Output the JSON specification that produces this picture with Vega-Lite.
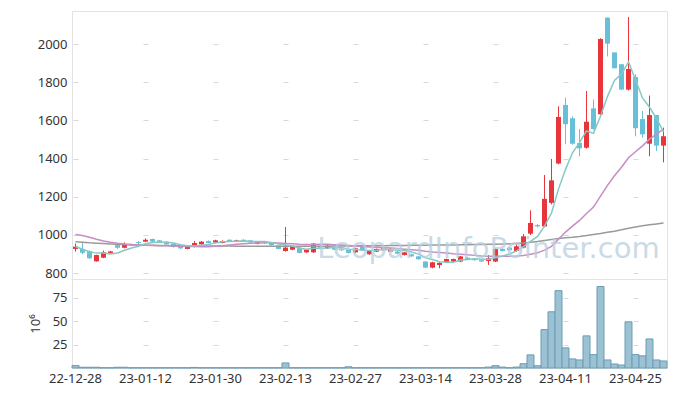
{
  "$schema": "https://vega.github.io/schema/vega-lite/v6.json",
  "padding": {"left": 28, "top": 10, "right": 9, "bottom": 5},
  "background": "white",
  "spacing": 0,
  "bounds": "flush",
  "config": {
    "view": {"stroke": "#e3e3e3"},
    "axis": {"labelFont": "Noto Sans", "labelFontSize": 13, "labelColor": "#333333", "domain": false, "ticks": false, "gridColor": "#d9d9d9", "gridWidth": 1, "titleFont": "Noto Sans", "titleFontWeight": "normal", "titleFontSize": 13, "titleColor": "#333333"}
  },
  "data": {"values": [
    {"d":"22-12-28","o":927,"h":955,"l":913,"c":939,"v":2.6,"m5":940,"m20":1003,"m60":965},
    {"d":"22-12-29","o":927,"h":965,"l":899,"c":907,"v":0.8,"m5":925,"m20":997,"m60":962},
    {"d":"23-01-02","o":916,"h":918,"l":874,"c":878,"v":0.8,"m5":912,"m20":988,"m60":959},
    {"d":"23-01-03","o":862,"h":897,"l":860,"c":895,"v":0.8,"m5":905,"m20":978,"m60":957},
    {"d":"23-01-04","o":881,"h":918,"l":879,"c":909,"v":0.3,"m5":905.6,"m20":969,"m60":955},
    {"d":"23-01-05","o":906,"h":917,"l":903,"c":914,"v":0.3,"m5":900.6,"m20":962,"m60":953},
    {"d":"23-01-06","o":947,"h":958,"l":927,"c":933,"v":0.8,"m5":905.8,"m20":957,"m60":951},
    {"d":"23-01-09","o":933,"h":961,"l":930,"c":951,"v":0.8,"m5":920.4,"m20":953,"m60":950},
    {"d":"23-01-10","o":947,"h":954,"l":944,"c":951,"v":0.3,"m5":931.6,"m20":950,"m60":948},
    {"d":"23-01-11","o":963,"h":968,"l":951,"c":958,"v":0.3,"m5":941.4,"m20":948,"m60":947},
    {"d":"23-01-12","o":965,"h":982,"l":963,"c":975,"v":0.3,"m5":953.6,"m20":946,"m60":946},
    {"d":"23-01-13","o":979,"h":981,"l":963,"c":965,"v":0.3,"m5":960,"m20":945,"m60":946},
    {"d":"23-01-16","o":972,"h":974,"l":958,"c":961,"v":0.3,"m5":962,"m20":944,"m60":945},
    {"d":"23-01-17","o":965,"h":968,"l":949,"c":951,"v":0.3,"m5":962,"m20":943,"m60":945},
    {"d":"23-01-18","o":954,"h":956,"l":934,"c":937,"v":0.3,"m5":957.8,"m20":942,"m60":944},
    {"d":"23-01-19","o":940,"h":942,"l":927,"c":930,"v":0.3,"m5":948.8,"m20":941,"m60":944},
    {"d":"23-01-20","o":927,"h":942,"l":925,"c":940,"v":0.3,"m5":943.8,"m20":940,"m60":943},
    {"d":"23-01-25","o":937,"h":968,"l":935,"c":958,"v":0.6,"m5":943.2,"m20":940,"m60":943},
    {"d":"23-01-26","o":951,"h":968,"l":949,"c":965,"v":0.3,"m5":946,"m20":939,"m60":943},
    {"d":"23-01-27","o":968,"h":972,"l":956,"c":958,"v":0.3,"m5":950.2,"m20":938.8,"m60":942},
    {"d":"23-01-30","o":961,"h":975,"l":958,"c":972,"v":0.3,"m5":958.6,"m20":940.4,"m60":942},
    {"d":"23-01-31","o":958,"h":972,"l":956,"c":968,"v":0.3,"m5":964.2,"m20":943.5,"m60":942},
    {"d":"23-02-01","o":975,"h":977,"l":963,"c":965,"v":0.3,"m5":965.6,"m20":947.8,"m60":942},
    {"d":"23-02-02","o":965,"h":975,"l":963,"c":972,"v":0.3,"m5":967,"m20":951.7,"m60":941},
    {"d":"23-02-03","o":975,"h":977,"l":965,"c":968,"v":0.3,"m5":969,"m20":954.6,"m60":941},
    {"d":"23-02-06","o":972,"h":974,"l":958,"c":961,"v":0.3,"m5":966.8,"m20":957,"m60":941},
    {"d":"23-02-07","o":954,"h":968,"l":951,"c":965,"v":0.3,"m5":966.2,"m20":958.6,"m60":941},
    {"d":"23-02-08","o":958,"h":968,"l":954,"c":965,"v":0.3,"m5":966.2,"m20":959.3,"m60":941},
    {"d":"23-02-09","o":961,"h":963,"l":944,"c":947,"v":0.3,"m5":961.2,"m20":959,"m60":941},
    {"d":"23-02-10","o":944,"h":946,"l":925,"c":927,"v":0.3,"m5":953,"m20":957.5,"m60":941},
    {"d":"23-02-13","o":916,"h":1042,"l":913,"c":934,"v":5.4,"m5":947.6,"m20":955.5,"m60":941},
    {"d":"23-02-14","o":923,"h":940,"l":920,"c":937,"v":0.3,"m5":942,"m20":954,"m60":941},
    {"d":"23-02-15","o":934,"h":937,"l":904,"c":906,"v":0.3,"m5":930.2,"m20":951.3,"m60":941},
    {"d":"23-02-16","o":909,"h":925,"l":906,"c":923,"v":0.3,"m5":925.4,"m20":949.9,"m60":941},
    {"d":"23-02-17","o":909,"h":958,"l":906,"c":955,"v":0.3,"m5":931,"m20":950.8,"m60":941},
    {"d":"23-02-20","o":944,"h":946,"l":930,"c":933,"v":0.3,"m5":930.8,"m20":951,"m60":941},
    {"d":"23-02-21","o":930,"h":947,"l":927,"c":944,"v":0.3,"m5":932.2,"m20":951.2,"m60":941},
    {"d":"23-02-22","o":937,"h":939,"l":920,"c":923,"v":0.3,"m5":935.6,"m20":949.4,"m60":942},
    {"d":"23-02-23","o":930,"h":933,"l":916,"c":920,"v":0.3,"m5":935,"m20":947.2,"m60":942},
    {"d":"23-02-24","o":923,"h":926,"l":903,"c":906,"v":1.3,"m5":925.2,"m20":944.6,"m60":942},
    {"d":"23-02-27","o":909,"h":933,"l":906,"c":930,"v":0.3,"m5":924.6,"m20":942.5,"m60":943},
    {"d":"23-02-28","o":937,"h":940,"l":916,"c":920,"v":0.3,"m5":919.8,"m20":940,"m60":943},
    {"d":"23-03-02","o":899,"h":918,"l":896,"c":916,"v":0.3,"m5":918.4,"m20":937.6,"m60":944},
    {"d":"23-03-03","o":913,"h":929,"l":911,"c":927,"v":0.3,"m5":919.8,"m20":935.4,"m60":944},
    {"d":"23-03-06","o":920,"h":933,"l":918,"c":930,"v":0.3,"m5":924.6,"m20":933.5,"m60":944},
    {"d":"23-03-07","o":913,"h":930,"l":911,"c":927,"v":0.3,"m5":924,"m20":931.8,"m60":945},
    {"d":"23-03-08","o":913,"h":916,"l":899,"c":902,"v":0.3,"m5":920.4,"m20":928.6,"m60":945},
    {"d":"23-03-09","o":895,"h":911,"l":892,"c":909,"v":0.3,"m5":919,"m20":925.8,"m60":945},
    {"d":"23-03-10","o":899,"h":902,"l":886,"c":888,"v":0.3,"m5":911.2,"m20":922.9,"m60":946},
    {"d":"23-03-13","o":888,"h":890,"l":870,"c":873,"v":0.3,"m5":899.8,"m20":920.2,"m60":946},
    {"d":"23-03-14","o":861,"h":863,"l":826,"c":829,"v":0.3,"m5":880.2,"m20":914.9,"m60":946},
    {"d":"23-03-15","o":829,"h":860,"l":826,"c":857,"v":0.3,"m5":871.2,"m20":910.9,"m60":947},
    {"d":"23-03-16","o":843,"h":857,"l":826,"c":854,"v":0.3,"m5":860.2,"m20":908.3,"m60":947},
    {"d":"23-03-17","o":857,"h":876,"l":855,"c":874,"v":0.3,"m5":857.4,"m20":905.9,"m60":948},
    {"d":"23-03-20","o":861,"h":876,"l":858,"c":874,"v":0.3,"m5":857.6,"m20":901.8,"m60":948},
    {"d":"23-03-21","o":861,"h":890,"l":858,"c":888,"v":0.3,"m5":869.4,"m20":899.6,"m60":949},
    {"d":"23-03-22","o":881,"h":884,"l":868,"c":871,"v":0.3,"m5":872.2,"m20":895.9,"m60":949},
    {"d":"23-03-23","o":874,"h":878,"l":865,"c":868,"v":0.3,"m5":875,"m20":893.2,"m60":950},
    {"d":"23-03-24","o":868,"h":871,"l":858,"c":861,"v":0.3,"m5":872.4,"m20":890.2,"m60":950},
    {"d":"23-03-27","o":864,"h":895,"l":843,"c":878,"v":1.0,"m5":873.2,"m20":888.8,"m60":951},
    {"d":"23-03-28","o":861,"h":930,"l":858,"c":927,"v":2.5,"m5":881,"m20":888.7,"m60":952},
    {"d":"23-03-29","o":927,"h":930,"l":913,"c":916,"v":1.0,"m5":890,"m20":888.5,"m60":953},
    {"d":"23-03-30","o":934,"h":936,"l":918,"c":920,"v":0.3,"m5":900.4,"m20":888.7,"m60":954},
    {"d":"23-03-31","o":916,"h":960,"l":913,"c":941,"v":1.0,"m5":916.4,"m20":889.4,"m60":955},
    {"d":"23-04-03","o":934,"h":1005,"l":930,"c":993,"v":4.6,"m5":939.4,"m20":892.5,"m60":958},
    {"d":"23-04-04","o":1007,"h":1129,"l":1000,"c":1063,"v":14,"m5":966.6,"m20":899.3,"m60":962},
    {"d":"23-04-05","o":1052,"h":1058,"l":1040,"c":1045,"v":2.4,"m5":992.4,"m20":906.5,"m60":966},
    {"d":"23-04-06","o":1045,"h":1314,"l":1040,"c":1189,"v":41,"m5":1046.2,"m20":920.5,"m60":971},
    {"d":"23-04-07","o":1168,"h":1398,"l":1160,"c":1286,"v":60,"m5":1115.2,"m20":940.4,"m60":976},
    {"d":"23-04-10","o":1374,"h":1674,"l":1370,"c":1618,"v":82.6,"m5":1240.2,"m20":977.6,"m60":981},
    {"d":"23-04-11","o":1681,"h":1719,"l":1475,"c":1580,"v":21.5,"m5":1343.6,"m20":1015.2,"m60":985},
    {"d":"23-04-12","o":1611,"h":1621,"l":1473,"c":1478,"v":9.7,"m5":1430.2,"m20":1046.2,"m60":988},
    {"d":"23-04-13","o":1482,"h":1555,"l":1412,"c":1454,"v":8.6,"m5":1483.2,"m20":1076.2,"m60":992},
    {"d":"23-04-14","o":1457,"h":1754,"l":1452,"c":1593,"v":34.3,"m5":1544.6,"m20":1112.2,"m60":997},
    {"d":"23-04-17","o":1663,"h":1709,"l":1550,"c":1555,"v":14.3,"m5":1532,"m20":1146.2,"m60":1003},
    {"d":"23-04-18","o":1632,"h":2030,"l":1628,"c":2026,"v":87,"m5":1621.2,"m20":1203.1,"m60":1008},
    {"d":"23-04-19","o":2138,"h":2138,"l":1935,"c":2002,"v":8.6,"m5":1726,"m20":1259.7,"m60":1014},
    {"d":"23-04-20","o":1956,"h":1956,"l":1873,"c":1873,"v":4.3,"m5":1809.8,"m20":1309.9,"m60":1020},
    {"d":"23-04-21","o":1894,"h":1894,"l":1761,"c":1761,"v":3.2,"m5":1843.4,"m20":1354.9,"m60":1027},
    {"d":"23-04-24","o":1761,"h":2141,"l":1757,"c":1869,"v":49.3,"m5":1906.2,"m20":1404.5,"m60":1035},
    {"d":"23-04-25","o":1827,"h":1841,"l":1517,"c":1559,"v":14.3,"m5":1812.8,"m20":1436.1,"m60":1042},
    {"d":"23-04-26","o":1607,"h":1649,"l":1510,"c":1527,"v":13,"m5":1717.8,"m20":1466.6,"m60":1048},
    {"d":"23-04-27","o":1478,"h":1730,"l":1412,"c":1628,"v":31,"m5":1668.8,"m20":1502,"m60":1053},
    {"d":"23-04-28","o":1628,"h":1628,"l":1440,"c":1468,"v":8.6,"m5":1610.2,"m20":1528.4,"m60":1058},
    {"d":"23-05-02","o":1468,"h":1562,"l":1380,"c":1517,"v":7.5,"m5":1539.8,"m20":1554.6,"m60":1063}
  ]},
  "vconcat": [
    {
      "width": 595,
      "height": 268,
      "encoding": {
        "x": {"field": "d", "type": "ordinal", "sort": null, "scale": {"paddingInner": 0, "paddingOuter": 0},
              "axis": {"labels": false, "title": null, "values": ["22-12-28","23-01-12","23-01-30","23-02-13","23-02-27","23-03-14","23-03-28","23-04-11","23-04-25"], "gridDash": [5, 33.2], "gridDashOffset": 34.7}}
      },
      "layer": [
        {
          "mark": {"type": "rule", "strokeWidth": 1},
          "encoding": {
            "y": {"field": "l", "type": "quantitative", "scale": {"domain": [769.5, 2172.8], "nice": false, "zero": false},
                  "axis": {"title": null, "format": "d", "values": [800,1000,1200,1400,1600,1800,2000], "labelPadding": 5, "gridDash": [5, 65], "gridDashOffset": 69}},
            "y2": {"field": "h"},
            "color": {"condition": {"test": "datum.c >= datum.o", "value": "#e8353b"}, "value": "#67c0d8"}
          }
        },
        {
          "mark": {"type": "bar", "size": 5},
          "encoding": {
            "y": {"field": "o", "type": "quantitative"},
            "y2": {"field": "c"},
            "color": {"condition": {"test": "datum.c >= datum.o", "value": "#e8353b"}, "value": "#67c0d8"}
          }
        },
        {"mark": {"type": "line", "color": "#9a9a9a", "strokeWidth": 1.5}, "encoding": {"y": {"field": "m60", "type": "quantitative"}}},
        {"mark": {"type": "line", "color": "#c98bc3", "strokeWidth": 1.5}, "encoding": {"y": {"field": "m20", "type": "quantitative"}}},
        {"mark": {"type": "line", "color": "#86c9c3", "strokeWidth": 1.5}, "encoding": {"y": {"field": "m5", "type": "quantitative"}}},
        {
          "data": {"values": [{"wm": "LeopardInfoPointer.com"}]},
          "mark": {"type": "text", "font": "DejaVu Sans", "fontSize": 29, "color": "#b7cfdf", "opacity": 0.75, "align": "center", "baseline": "alphabetic"},
          "encoding": {"text": {"field": "wm"}, "x": {"datum": "23-03-27", "type": "ordinal"}, "y": {"datum": 881, "type": "quantitative"}}
        }
      ]
    },
    {
      "width": 595,
      "height": 89,
      "mark": {"type": "bar", "fill": "#9cc1d3", "stroke": "#6a9db6", "strokeWidth": 1},
      "encoding": {
        "x": {"field": "d", "type": "ordinal", "sort": null, "scale": {"paddingInner": 0, "paddingOuter": 0},
              "axis": {"title": null, "labelAngle": 0, "labelPadding": 4, "values": ["22-12-28","23-01-12","23-01-30","23-02-13","23-02-27","23-03-14","23-03-28","23-04-11","23-04-25"], "gridDash": [5, 18.3], "gridDashOffset": 2.5}},
        "y": {"field": "v", "type": "quantitative", "scale": {"domain": [0, 95], "nice": false},
              "axis": {"title": "10⁶", "values": [25, 50, 75], "labelPadding": 5, "titlePadding": 10, "gridDash": [5, 65], "gridDashOffset": 69}}
      }
    }
  ]
}
